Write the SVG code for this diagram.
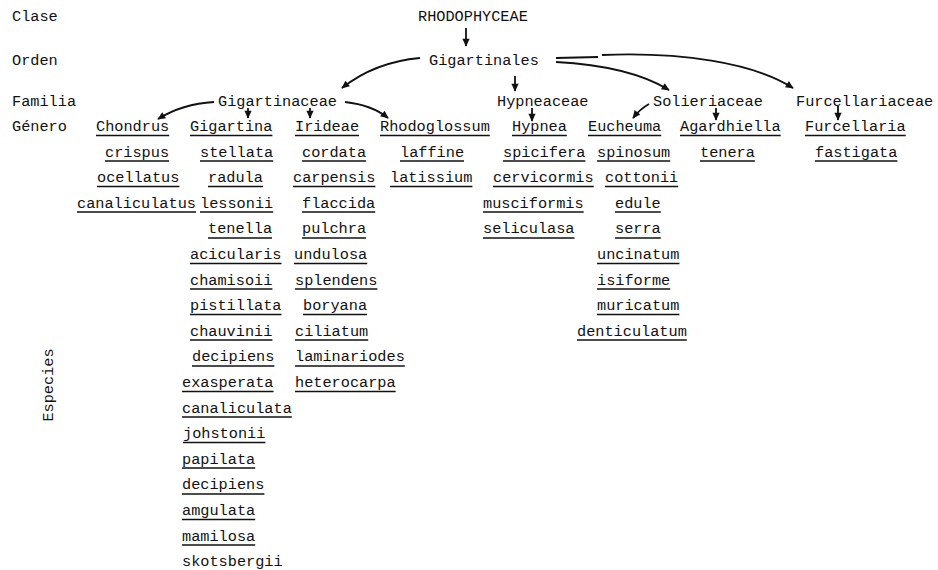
<svg xmlns="http://www.w3.org/2000/svg" width="938" height="570" viewBox="0 0 938 570">
<defs>
<style>
text { font-family: "Liberation Mono", "Courier New", monospace; font-size: 15.25px; fill: #111; }
.u { stroke: #111; stroke-width: 1.6; fill: none; }
.c { stroke: #111; stroke-width: 1.8; fill: none; marker-end: url(#ah); }
</style>
<marker id="ah" viewBox="0 0 10 10" refX="9" refY="5" markerWidth="9" markerHeight="8" markerUnits="userSpaceOnUse" orient="auto">
<path d="M0,0.5 L10,5 L0,9.5 z" fill="#111"/>
</marker>
</defs>
<rect width="938" height="570" fill="#fff"/>

<g id="rank-labels">
<text x="12" y="21">Clase</text>
<text x="12" y="65">Orden</text>
<text x="12" y="106">Familia</text>
<text x="12" y="131">Género</text>
<text x="53" y="385" text-anchor="middle" transform="rotate(-90 53 385)">Especies</text>
</g>

<g id="clase"><text x="418" y="21">RHODOPHYCEAE</text></g>
<g id="orden"><text x="429" y="65">Gigartinales</text></g>

<g id="fam-gigartinaceae"><text x="218" y="106">Gigartinaceae</text></g>
<g id="fam-hypneaceae"><text x="497" y="106">Hypneaceae</text></g>
<g id="fam-solieriaceae"><text x="653" y="106">Solieriaceae</text></g>
<g id="fam-furcellariaceae"><text x="796" y="106">Furcellariaceae</text></g>

<g id="gen-chondrus">
<text x="96" y="131">Chondrus</text><path class="u" d="M96 135.5H169.2"/>
<text x="105" y="156.6">crispus</text><path class="u" d="M105 161H169"/>
<text x="97" y="182.2">ocellatus</text><path class="u" d="M97 186.5H179.4"/>
<text x="77" y="207.8">canaliculatus</text><path class="u" d="M77 212H196"/>
</g>

<g id="gen-gigartina">
<text x="190" y="131">Gigartina</text><path class="u" d="M190 135.5H272.4"/>
<text x="200" y="156.6">stellata</text><path class="u" d="M200 161H273.2"/>
<text x="208" y="182.2">radula</text><path class="u" d="M208 186.5H262.9"/>
<text x="200" y="207.8">lessonii</text><path class="u" d="M200 212H273.2"/>
<text x="208" y="233.4">tenella</text><path class="u" d="M208 238H272"/>
<text x="190" y="259">acicularis</text><path class="u" d="M190 263.5H281.5"/>
<text x="190" y="284.6">chamisoii</text><path class="u" d="M190 289H272.4"/>
<text x="190" y="310.2">pistillata</text><path class="u" d="M190 314.5H281.5"/>
<text x="190" y="335.8">chauvinii</text><path class="u" d="M190 340H272.4"/>
<text x="192" y="361.4">decipiens</text><path class="u" d="M192 366H274.4"/>
<text x="182" y="387">exasperata</text><path class="u" d="M182 391.5H273.5"/>
<text x="182" y="412.6">canaliculata</text><path class="u" d="M182 417H291.8"/>
<text x="183" y="438.2">johstonii</text><path class="u" d="M183 442.5H265.4"/>
<text x="182" y="463.8">papilata</text><path class="u" d="M182 468H255.2"/>
<text x="182" y="489.4">decipiens</text><path class="u" d="M182 494H264.4"/>
<text x="182" y="515">amgulata</text><path class="u" d="M182 519.5H255.2"/>
<text x="182" y="540.6">mamilosa</text><path class="u" d="M182 545H255.2"/>
<text x="182" y="566.2">skotsbergii</text>
</g>

<g id="gen-irideae">
<text x="295" y="131">Irideae</text><path class="u" d="M295 135.5H359"/>
<text x="302" y="156.6">cordata</text><path class="u" d="M302 161H366"/>
<text x="293" y="182.2">carpensis</text><path class="u" d="M293 186.5H375.4"/>
<text x="302" y="207.8">flaccida</text><path class="u" d="M302 212H375.2"/>
<text x="302" y="233.4">pulchra</text><path class="u" d="M302 238H366"/>
<text x="294" y="259">undulosa</text><path class="u" d="M294 263.5H367.2"/>
<text x="295" y="284.6">splendens</text><path class="u" d="M295 289H377.4"/>
<text x="303" y="310.2">boryana</text><path class="u" d="M303 314.5H367"/>
<text x="295" y="335.8">ciliatum</text><path class="u" d="M295 340H368.2"/>
<text x="295" y="361.4">laminariodes</text><path class="u" d="M295 366H404.8"/>
<text x="295" y="387">heterocarpa</text><path class="u" d="M295 391.5H395.7"/>
</g>

<g id="gen-rhodoglossum">
<text x="380" y="131">Rhodoglossum</text><path class="u" d="M380 135.5H489.8"/>
<text x="400" y="156.6">laffine</text><path class="u" d="M400 161H464"/>
<text x="390" y="182.2">latissium</text><path class="u" d="M390 186.5H472.4"/>
</g>

<g id="gen-hypnea">
<text x="512" y="131">Hypnea</text><path class="u" d="M512 135.5H566.9"/>
<text x="503" y="156.6">spicifera</text><path class="u" d="M503 161H585.4"/>
<text x="493" y="182.2">cervicormis</text><path class="u" d="M493 186.5H593.7"/>
<text x="483" y="207.8">musciformis</text><path class="u" d="M483 212H583.7"/>
<text x="483" y="233.4">seliculasa</text><path class="u" d="M483 238H574.5"/>
</g>

<g id="gen-eucheuma">
<text x="588" y="131">Eucheuma</text><path class="u" d="M588 135.5H661.2"/>
<text x="597" y="156.6">spinosum</text><path class="u" d="M597 161H670.2"/>
<text x="605" y="182.2">cottonii</text><path class="u" d="M605 186.5H678.2"/>
<text x="615" y="207.8">edule</text><path class="u" d="M615 212H660.8"/>
<text x="615" y="233.4">serra</text><path class="u" d="M615 238H660.8"/>
<text x="597" y="259">uncinatum</text><path class="u" d="M597 263.5H679.4"/>
<text x="597" y="284.6">isiforme</text><path class="u" d="M597 289H670.2"/>
<text x="597" y="310.2">muricatum</text><path class="u" d="M597 314.5H679.4"/>
<text x="577" y="335.8">denticulatum</text><path class="u" d="M577 340H686.8"/>
</g>

<g id="gen-agardhiella">
<text x="680" y="131">Agardhiella</text><path class="u" d="M680 135.5H780.7"/>
<text x="700" y="156.6">tenera</text><path class="u" d="M700 161H754.9"/>
</g>

<g id="gen-furcellaria">
<text x="805" y="131">Furcellaria</text><path class="u" d="M805 135.5H905.7"/>
<text x="815" y="156.6">fastigata</text><path class="u" d="M815 161H897.4"/>
</g>

<g id="connectors">
<path class="c" d="M466 28V46"/>
<path class="c" d="M420 58Q375 62 342 88"/>
<path class="c" d="M515 76V91"/>
<path class="c" d="M556 62Q630 66 669 90"/>
<path class="c" d="M556 58L598 57M602 55C680 52 752 62 793 88"/>
<path class="c" d="M214 102Q182 104 158 119"/>
<path class="c" d="M248 108V118"/>
<path class="c" d="M310 108V118"/>
<path class="c" d="M345 102Q372 105 388 118"/>
<path class="c" d="M532 108V121"/>
<path class="c" d="M649 104Q640 109 633 118"/>
<path class="c" d="M716 108V120"/>
<path class="c" d="M838 106V120"/>
</g>
</svg>
